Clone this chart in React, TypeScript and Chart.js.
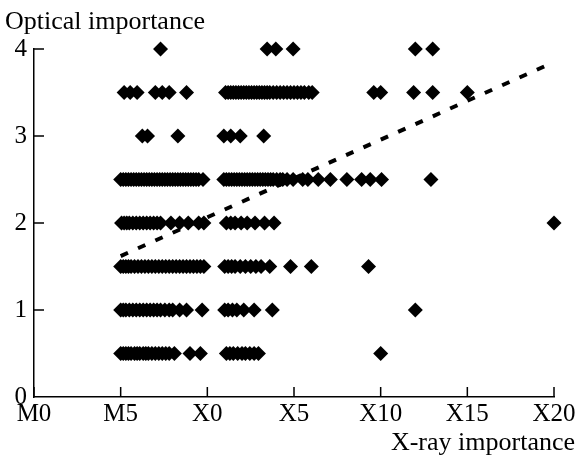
import React, { useEffect, useRef } from 'react';
import { Chart, registerables } from 'chart.js';

Chart.register(...registerables);

// X axis: spectral-class style labels on an evenly spaced scale
const xTickValues = [0, 5, 10, 15, 20, 25, 30];
const xTickLabels = ['M0', 'M5', 'X0', 'X5', 'X10', 'X15', 'X20'];
const yTickValues = [0, 1, 2, 3, 4];

// Optical importance rows (y value) with X-ray importance positions (x)
const row05 = [5.0, 5.15, 5.3, 5.45, 5.6, 5.8, 5.95, 6.1, 6.3, 6.45, 6.6, 6.8, 7.0, 7.2, 7.4, 7.6, 7.8, 8.1, 9.0, 9.6,
  11.1, 11.3, 11.5, 11.75, 12.0, 12.2, 12.45, 12.7, 12.95, 20.0];
const row10 = [5.0, 5.15, 5.3, 5.5, 5.7, 5.9, 6.1, 6.3, 6.5, 6.7, 6.9, 7.1, 7.3, 7.55, 7.8, 8.0, 8.4, 8.8, 9.7,
  11.0, 11.2, 11.45, 11.7, 12.1, 12.7, 13.75, 22.0];
const row15 = [5.0, 5.15, 5.3, 5.45, 5.6, 5.8, 6.0, 6.2, 6.4, 6.6, 6.8, 7.0, 7.2, 7.4, 7.6, 7.8, 8.0, 8.2, 8.4, 8.6,
  8.8, 9.0, 9.2, 9.4, 9.6, 9.8, 11.0, 11.2, 11.4, 11.6, 11.9, 12.2, 12.5, 12.8, 13.1, 13.6, 14.8, 16.0, 19.3];
const row20 = [5.05, 5.2, 5.35, 5.5, 5.7, 5.9, 6.1, 6.3, 6.5, 6.7, 6.9, 7.1, 7.3, 7.9, 8.4, 8.9, 9.5, 9.8,
  11.1, 11.35, 11.6, 11.95, 12.3, 12.75, 13.3, 13.85, 30.0];
const row25 = [5.0, 5.15, 5.3, 5.45, 5.6, 5.75, 5.9, 6.05, 6.2, 6.35, 6.5, 6.65, 6.8, 6.95, 7.1, 7.25, 7.4, 7.55,
  7.7, 7.85, 8.0, 8.15, 8.3, 8.45, 8.6, 8.75, 8.9, 9.05, 9.2, 9.35, 9.5, 9.75,
  10.95, 11.1, 11.25, 11.4, 11.55, 11.7, 11.85, 12.0, 12.15, 12.3, 12.45, 12.6, 12.75, 12.9, 13.05, 13.2, 13.35,
  13.5, 13.65, 13.8, 14.0, 14.2, 14.35, 14.6, 14.95, 15.5, 15.8, 16.4, 17.1, 18.05, 18.9, 19.4, 20.05, 22.9];
const row30 = [6.25, 6.55, 8.3, 10.95, 11.35, 11.9, 13.25];
const row35 = [5.2, 5.55, 5.95, 7.0, 7.4, 7.8, 8.8,
  11.05, 11.2, 11.35, 11.5, 11.65, 11.8, 11.95, 12.1, 12.25, 12.4, 12.55, 12.7, 12.85, 13.0, 13.15, 13.3, 13.45,
  13.6, 13.8, 14.0, 14.2, 14.4, 14.6, 14.8, 15.0, 15.2, 15.4, 15.6, 15.85, 16.05,
  19.6, 20.0, 21.9, 23.0, 25.0];
const row40 = [7.3, 13.45, 13.95, 14.95, 22.0, 23.0];

// Dashed trend line end points
const trendX = [5, 30];
const trendY = [1.62, 3.85];

const FONT = "'Liberation Serif', 'Times New Roman', serif";

export default function App() {
  const ref = useRef<HTMLCanvasElement>(null);

  useEffect(() => {
    const rows: [number, number[]][] = [
      [0.5, row05], [1, row10], [1.5, row15], [2, row20],
      [2.5, row25], [3, row30], [3.5, row35], [4, row40],
    ];
    const points = rows.flatMap(([y, xs]) => xs.map((x) => ({ x, y })));
    const trend = trendX.map((x, i) => ({ x, y: trendY[i] }));

    const extras = {
      id: 'extras',
      afterDraw(chart: any) {
        const { ctx, chartArea, scales } = chart;
        ctx.save();
        ctx.strokeStyle = '#000';
        ctx.lineWidth = 1.5;
        ctx.beginPath();
        xTickValues.forEach((v) => {
          const px = scales.x.getPixelForValue(v);
          ctx.moveTo(px, chartArea.bottom);
          ctx.lineTo(px, chartArea.bottom - 10);
        });
        yTickValues.forEach((v) => {
          if (v === 0) return;
          const py = scales.y.getPixelForValue(v);
          ctx.moveTo(chartArea.left, py);
          ctx.lineTo(chartArea.left + 10, py);
        });
        ctx.stroke();
        ctx.fillStyle = '#000';
        ctx.font = `26px ${FONT}`;
        ctx.textBaseline = 'alphabetic';
        ctx.textAlign = 'left';
        ctx.fillText('Optical importance', 5, 29);
        ctx.textAlign = 'right';
        ctx.fillText('X-ray importance', 575, 450);
        ctx.restore();
      },
    };

    const chart = new Chart(ref.current as HTMLCanvasElement, {
      type: 'scatter',
      data: {
        datasets: [
          {
            data: trend,
            showLine: true,
            borderColor: '#000',
            borderWidth: 4,
            borderDash: [8, 11],
            pointRadius: 0,
            clip: false,
          } as any,
          {
            data: points,
            pointStyle: 'rectRot',
            pointRadius: 7.5,
            backgroundColor: '#000',
            borderWidth: 0,
            clip: false,
          } as any,
        ],
      },
      options: {
        animation: false,
        responsive: false,
        devicePixelRatio: 1,
        layout: { padding: { top: 49, right: 29, left: 0, bottom: 0 } },
        plugins: { legend: { display: false }, tooltip: { enabled: false }, title: { display: false } },
        scales: {
          x: {
            type: 'linear',
            min: 0,
            max: 30,
            afterBuildTicks: (s: any) => { s.ticks = xTickValues.map((v) => ({ value: v })); },
            afterFit: (s: any) => { s.height = 61; },
            ticks: {
              callback: (v: any) => xTickLabels[xTickValues.indexOf(Number(v))],
              font: { family: FONT, size: 25 },
              color: '#000',
              padding: 2,
              maxRotation: 0,
              autoSkip: false,
            },
            grid: { display: false, drawTicks: false },
            border: { display: true, color: '#000', width: 1.5 },
          },
          y: {
            type: 'linear',
            min: 0,
            max: 4,
            afterBuildTicks: (s: any) => { s.ticks = yTickValues.map((v) => ({ value: v })); },
            afterFit: (s: any) => { s.width = 34; },
            ticks: {
              font: { family: FONT, size: 25 },
              color: '#000',
              padding: 7,
              autoSkip: false,
            },
            grid: { display: false, drawTicks: false },
            border: { display: true, color: '#000', width: 1.5 },
          },
        },
      },
      plugins: [extras],
    });
    return () => chart.destroy();
  }, []);

  return (
    <div style={{ position: 'fixed', left: 0, top: 0, width: 583, height: 458, background: '#fff' }}>
      <canvas ref={ref} width={583} height={458} style={{ display: 'block' }} />
    </div>
  );
}
